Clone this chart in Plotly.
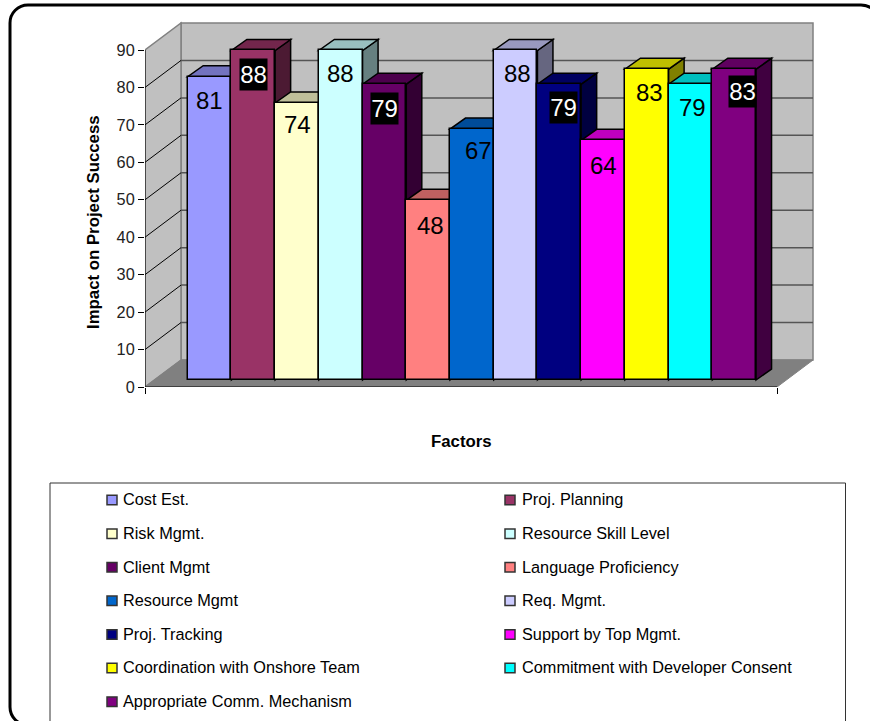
import plotly.graph_objects as go

# Survey scores per factor
factors = ["Cost Est.", "Proj. Planning", "Risk Mgmt.", "Resource Skill Level",
           "Client Mgmt", "Language Proficiency", "Resource Mgmt", "Req. Mgmt.",
           "Proj. Tracking", "Support by Top Mgmt.", "Coordination with Onshore Team",
           "Commitment with Developer Consent", "Appropriate Comm. Mechanism"]
scores = [81, 88, 74, 88, 79, 48, 67, 88, 79, 64, 83, 79, 83]
y_ticks = [0, 10, 20, 30, 40, 50, 60, 70, 80, 90]

colors = ["#9999FF", "#993366", "#FFFFCC", "#CCFFFF", "#660066", "#FF8080", "#0066CC",
          "#CCCCFF", "#000080", "#FF00FF", "#FFFF00", "#00FFFF", "#800080"]
# Scores printed white on a black box, for the dark bars
boxed = {1, 4, 8, 12}
# Small nudges of the score labels, in pixels
label_dx = [0, 0, 1, 0, 0, 2, 6.5, 2, 4, 0, 3, 2, 8]
label_dy = [24, 24, 22, 23, 24, 25, 21, 23, 23, 25, 23, 23, 22]

W, H = 870, 721
# Pixel frame of the chart: left/right of the plot box, value 0 and value 90 rows
PX_LEFT, PX_RIGHT, PX_TOP, PX_ZERO, PX_NINETY = 145, 817, 20, 387, 50
BAR_PX = 43.72
BAR0_CENTER_PX = 209.55
Y_PX = (PX_ZERO - PX_NINETY) / 90

def xdata(px):
    return (px - BAR0_CENTER_PX) / BAR_PX

def ydata(px):
    return (PX_ZERO - px) / Y_PX

x_min, x_max = xdata(PX_LEFT), xdata(PX_RIGHT)
y_max = ydata(PX_TOP)

# Oblique projection offsets, in data units
WALL_DX, WALL_DY = 36 / BAR_PX, 27 / Y_PX      # depth of the room
BAR_DX, BAR_DY = 15.5 / BAR_PX, 11 / Y_PX      # depth of one column
BAR_BASE = 7 / Y_PX                            # columns stand forward of the back wall
x_axis_end = xdata(777)

def poly(points):
    return "M" + " L".join(f"{x:.4f},{y:.4f}" for x, y in points) + " Z"

def shade(hex_color, k):
    r, g, b = (int(hex_color[i:i + 2], 16) for i in (1, 3, 5))
    return f"rgb({round(r * k)},{round(g * k)},{round(b * k)})"

shapes = []

def face(points, fill, line_color="#808080", width=1.5):
    shapes.append(dict(type="path", path=poly(points), xref="x", yref="y", layer="below",
                       fillcolor=fill, line=dict(color=line_color, width=width)))

def seg(x0, y0, x1, y1, color, width):
    shapes.append(dict(type="line", x0=x0, y0=y0, x1=x1, y1=y1, xref="x", yref="y",
                       layer="below", line=dict(color=color, width=width)))

# Room: back wall, side wall, floor
back_l, back_r = x_min + WALL_DX, x_axis_end + WALL_DX
face([(back_l, WALL_DY), (back_r, WALL_DY), (back_r, 90 + WALL_DY), (back_l, 90 + WALL_DY)], "#C0C0C0")
face([(x_min, 0), (back_l, WALL_DY), (back_l, 90 + WALL_DY), (x_min, 90)], "#C0C0C0")
face([(x_min, 0), (x_axis_end, 0), (back_r, WALL_DY), (back_l, WALL_DY)], "#808080", "#808080", 1)

# Grid lines wrap from the axis across the side wall and along the back wall
for v in y_ticks[1:-1]:
    seg(x_min, v, back_l, v + WALL_DY, "#000000", 1)
    seg(back_l, v + WALL_DY, back_r, v + WALL_DY, "#555555", 1.5)

# Column tops and sides, painted left to right so later columns cover earlier ones
for i, (v, c) in enumerate(zip(scores, colors)):
    l, r = i - 0.5, i + 0.5
    top = v + BAR_BASE
    face([(r, BAR_BASE), (r + BAR_DX, BAR_BASE + BAR_DY), (r + BAR_DX, top + BAR_DY), (r, top)],
         shade(c, 0.5), "#000000", 1.5)
    face([(l, top), (r, top), (r + BAR_DX, top + BAR_DY), (l + BAR_DX, top + BAR_DY)],
         shade(c, 0.75), "#000000", 1.5)

# Axis lines
axis_shapes = [
    dict(type="line", x0=x_min, y0=0, x1=x_min, y1=90),
    dict(type="line", x0=x_min, y0=0, x1=x_axis_end, y1=0),
]
for s in axis_shapes:
    s.update(xref="x", yref="y", layer="above", line=dict(color="#000000", width=1))
    shapes.append(s)

fig = go.Figure()
for i, (name, v, c) in enumerate(zip(factors, scores, colors)):
    fig.add_trace(go.Bar(x=[i], y=[v], base=BAR_BASE, width=1, name=name, showlegend=False,
                         marker=dict(color=c, line=dict(color="#000000", width=1.5)),
                         hoverinfo="name+y"))

annotations = []
for i, v in enumerate(scores):
    dark = i in boxed
    annotations.append(dict(
        x=i, y=v + BAR_BASE, xref="x", yref="y", text=str(v), showarrow=False,
        xshift=label_dx[i], yshift=-label_dy[i],
        font=dict(family="Liberation Sans", size=24, color="#FFFFFF" if dark else "#000000"),
        bgcolor="#000000" if dark else None,
        width=27 if dark else None, height=31 if dark else None,
        borderpad=0, align="center", valign="middle"))

# Paper coordinates are relative to the plot box, so convert from page pixels
plot_w, plot_h = PX_RIGHT - PX_LEFT, PX_ZERO - PX_TOP

def pxr(px):
    return (px - PX_LEFT) / plot_w

def pyr(py):
    return (PX_ZERO - py) / plot_h

annotations.append(dict(x=pxr(93), y=pyr(222), xref="paper", yref="paper", text="<b>Impact on Project Success</b>",
                        textangle=-90, showarrow=False, xanchor="center", yanchor="middle",
                        font=dict(family="Liberation Sans", size=16.8, color="#000000")))
annotations.append(dict(x=pxr(461), y=pyr(441), xref="paper", yref="paper", text="<b>Factors</b>",
                        showarrow=False, xanchor="center", yanchor="middle",
                        font=dict(family="Liberation Sans", size=16.8, color="#000000")))

# Legend box with two columns of swatches
LEG_COLS = [(107, 122), (505, 520.5)]
LEG_ROW0, LEG_STEP = 499.3, 33.6
for i, (name, c) in enumerate(zip(factors, colors)):
    sw_x, tx_x = LEG_COLS[i % 2]
    row_y = LEG_ROW0 + LEG_STEP * (i // 2)
    shapes.append(dict(type="rect", xref="paper", yref="paper", layer="above",
                       x0=pxr(sw_x), x1=pxr(sw_x + 10), y0=pyr(row_y - 4), y1=pyr(row_y + 5.5),
                       fillcolor=c, line=dict(color="#333333", width=1.5)))
    annotations.append(dict(x=pxr(tx_x), y=pyr(row_y), xref="paper", yref="paper", text=name,
                            showarrow=False, xanchor="left", yanchor="middle", borderpad=0,
                            font=dict(family="Liberation Sans", size=16.3, color="#000000")))

# Legend frame runs off the bottom of the page
shapes.append(dict(type="rect", xref="paper", yref="paper", layer="above",
                   x0=pxr(50), x1=pxr(845.5), y0=pyr(483), y1=pyr(730),
                   fillcolor="rgba(0,0,0,0)", line=dict(color="#333333", width=1)))

# Rounded page frame, running off the bottom and right of the page
L, T, R, B, RAD = 10, 5, 879, 725, 18
frame = (f"M{pxr(L)},{pyr(T + RAD)} C{pxr(L)},{pyr(T + 8)} {pxr(L + 8)},{pyr(T)} {pxr(L + RAD)},{pyr(T)} "
         f"L{pxr(R - RAD)},{pyr(T)} C{pxr(R - 8)},{pyr(T)} {pxr(R)},{pyr(T + 8)} {pxr(R)},{pyr(T + RAD)} "
         f"L{pxr(R)},{pyr(B - RAD)} C{pxr(R)},{pyr(B - 8)} {pxr(R - 8)},{pyr(B)} {pxr(R - RAD)},{pyr(B)} "
         f"L{pxr(L + RAD)},{pyr(B)} C{pxr(L + 8)},{pyr(B)} {pxr(L)},{pyr(B - 8)} {pxr(L)},{pyr(B - RAD)} Z")
shapes.append(dict(type="path", path=frame, xref="paper", yref="paper", layer="above",
                   fillcolor="rgba(0,0,0,0)", line=dict(color="#000000", width=3)))

fig.update_layout(
    width=W, height=H, autosize=False,
    margin=dict(l=PX_LEFT, r=W - PX_RIGHT, t=PX_TOP, b=H - PX_ZERO, pad=0, autoexpand=False),
    paper_bgcolor="#FFFFFF", plot_bgcolor="rgba(0,0,0,0)",
    barmode="overlay", bargap=0, showlegend=False,
    shapes=shapes, annotations=annotations,
    xaxis=dict(range=[x_min, x_max], tickmode="array", tickvals=[x_min, x_axis_end], ticktext=["", ""],
               ticks="outside", ticklen=6, tickwidth=1, tickcolor="#000000",
               showgrid=False, zeroline=False, showline=False, fixedrange=True, automargin=False),
    yaxis=dict(range=[0, y_max], tickmode="array", tickvals=y_ticks,
               ticks="outside", ticklen=6, tickwidth=1, tickcolor="#000000",
               tickfont=dict(family="Liberation Sans", size=16.3, color="#222222"),
               showgrid=False, zeroline=False, showline=False, fixedrange=True, automargin=False),
)

fig.write_html("out.html", config=dict(displayModeBar=False))
